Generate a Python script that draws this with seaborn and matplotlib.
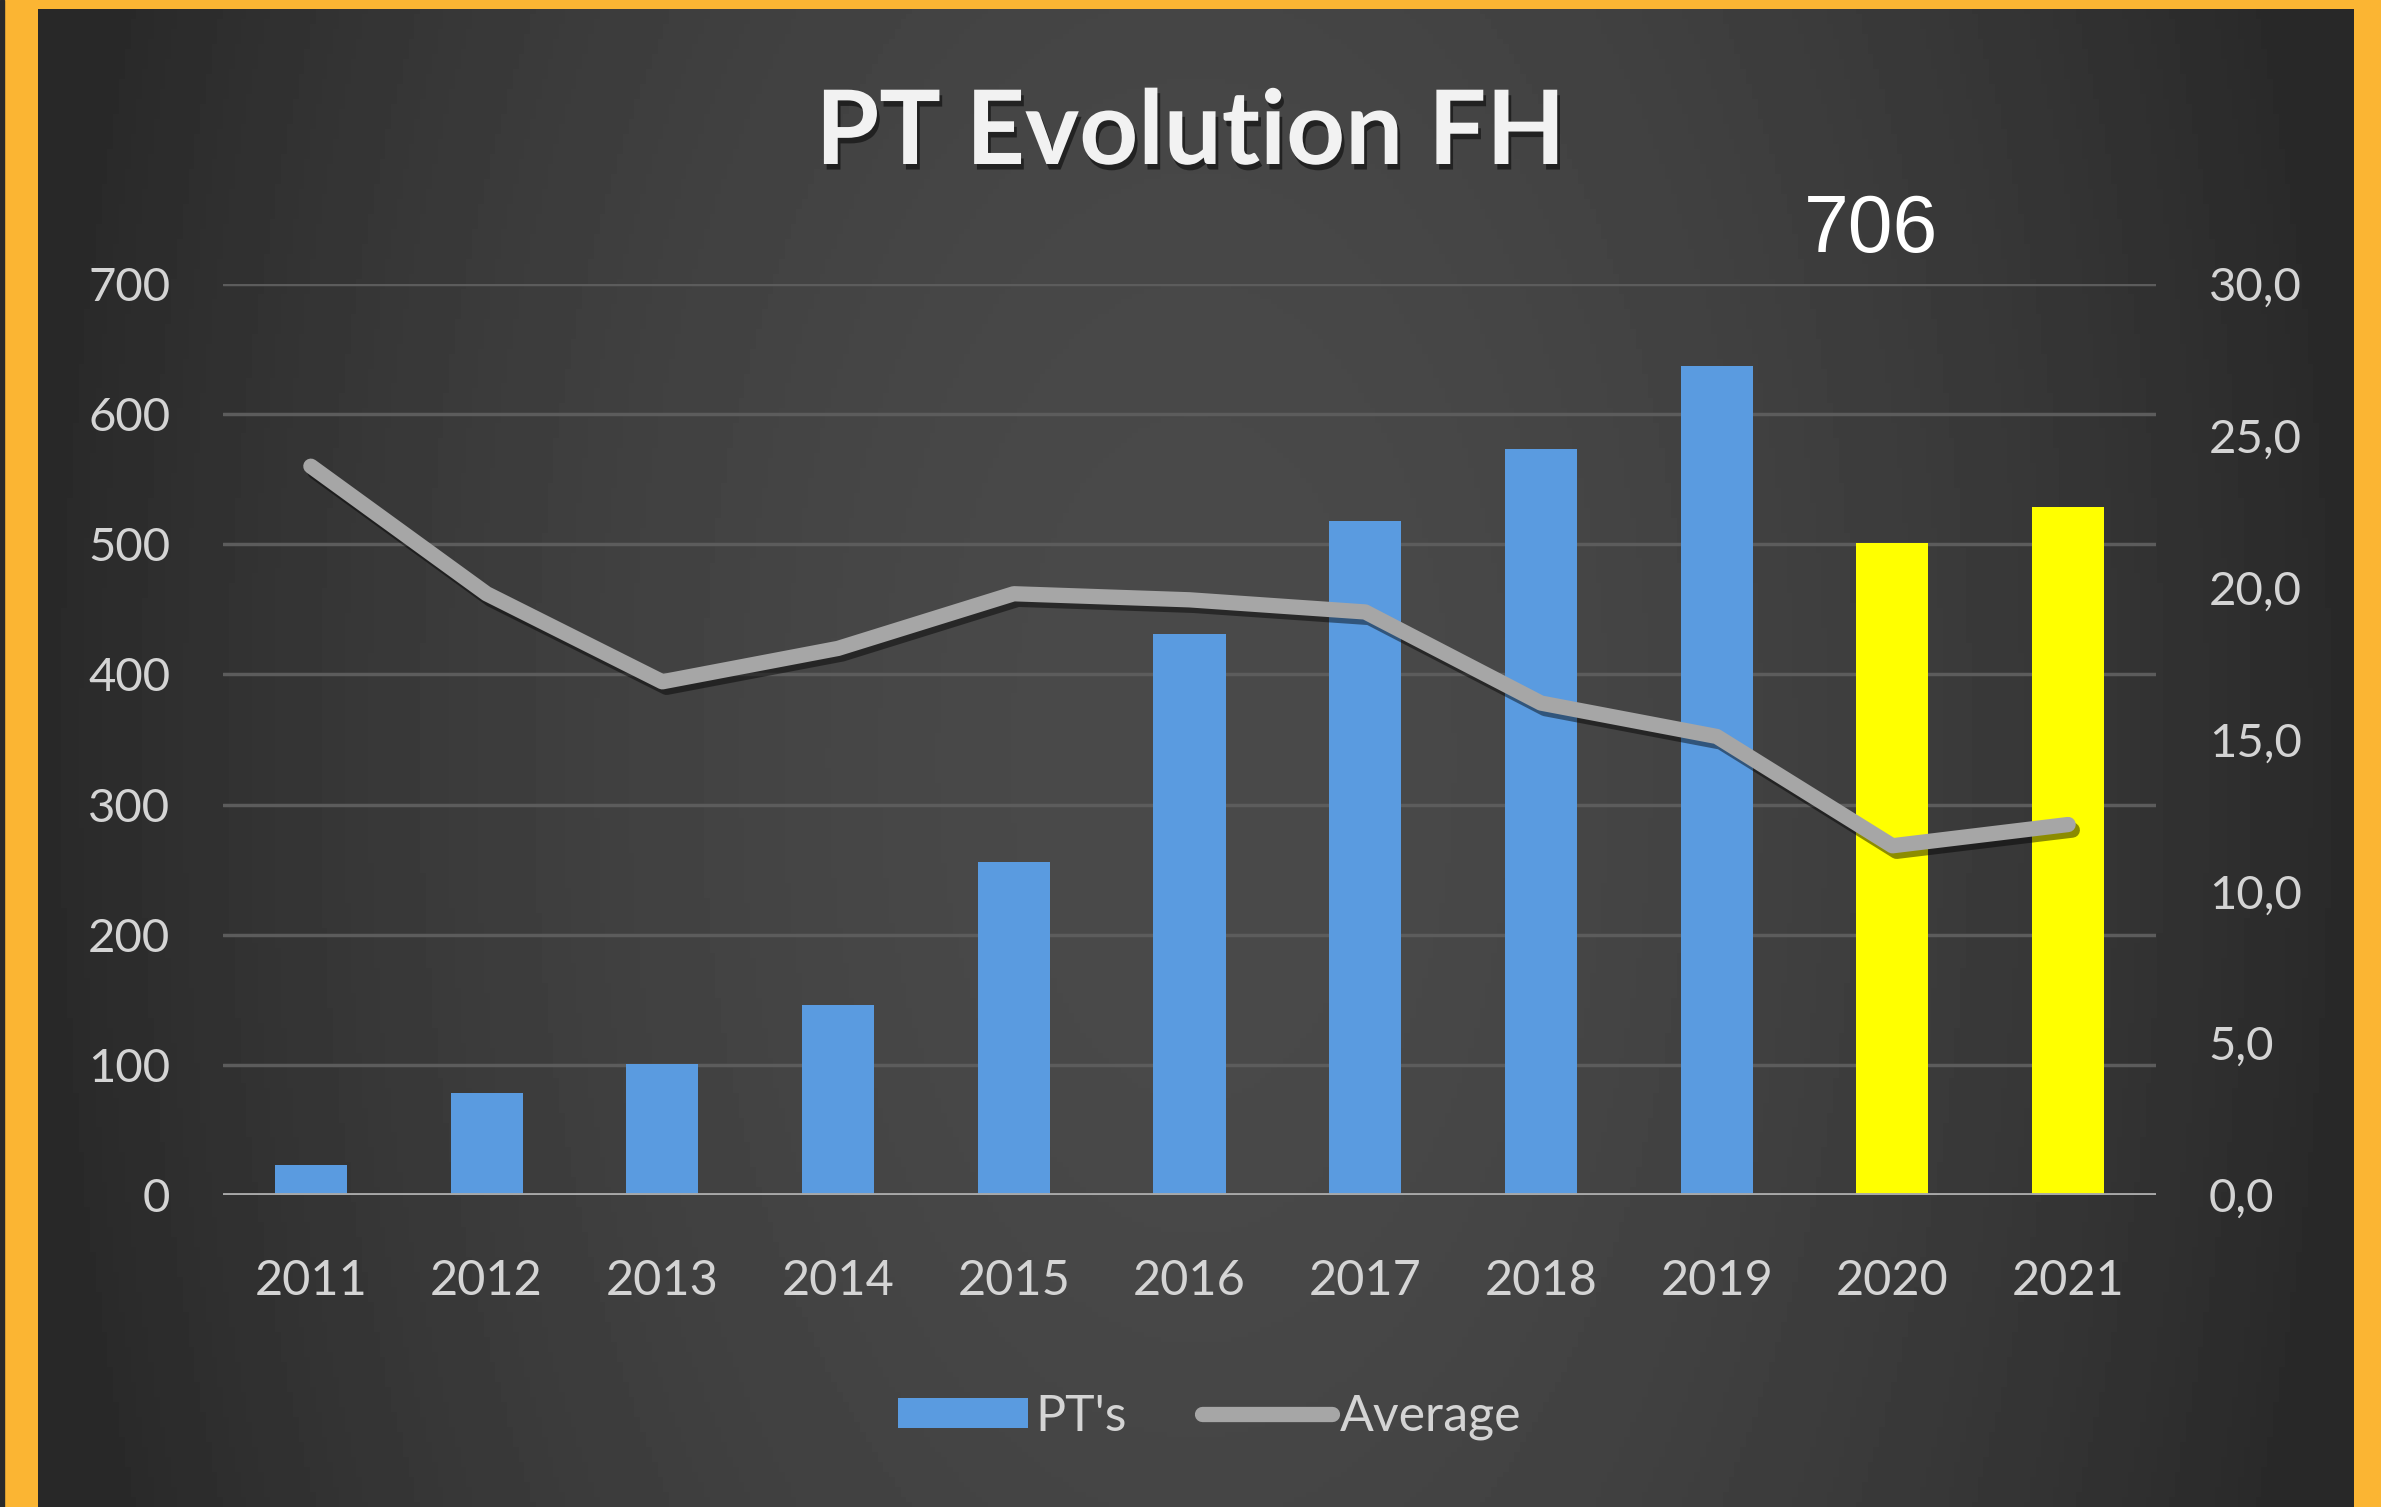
import numpy as np
import pandas as pd
import seaborn as sns
import matplotlib.pyplot as plt
import matplotlib.patheffects as pe
from matplotlib.patches import Patch, Rectangle
from matplotlib.lines import Line2D

# data
years = ['2011', '2012', '2013', '2014', '2015', '2016', '2017', '2018', '2019', '2020', '2021']
pts = [23, 78, 101, 146, 256, 431, 518, 573, 637, 501, 529]
average = [24.0, 19.8, 16.9, 18.0, 19.8, 19.6, 19.2, 16.2, 15.1, 11.5, 12.2]
bar_colors = ['#5a9be0'] * 9 + ['#ffff00'] * 2
annotation = '706'

sns.set_theme(style='dark')
plt.rcParams['font.family'] = ['Lato', 'DejaVu Sans']

txt = '#d4d4d4'
fig = plt.figure(figsize=(23.81, 15.07), dpi=100)
fig.patch.set_facecolor('#fbb533')

# dark panel, lighter in the middle, darker towards the sides
bg = fig.add_axes([38 / 2381, 0, (2354 - 38) / 2381, 1 - 9 / 1507])
gx, gy = np.meshgrid(np.linspace(-1, 1, 400), np.linspace(-1, 1, 300))
r = np.sqrt(gx ** 2 + (gy * 0.35) ** 2)
shade = 0.29 - 0.13 * np.clip(r, 0, 1) ** 1.8
bg.imshow(shade, cmap='gray', vmin=0, vmax=1, aspect='auto', extent=[0, 1, 0, 1])
bg.set_axis_off()
fig.add_artist(Rectangle((0, 0), 4 / 2381, 1, transform=fig.transFigure, color='#2a2a2a'))

ax = fig.add_axes([223 / 2381, 1 - 1195 / 1507, (2156 - 223) / 2381, (1195 - 284) / 1507])
ax.set_facecolor('none')
df = pd.DataFrame({'year': years, 'pts': pts})
sns.barplot(data=df, x='year', y='pts', hue='year', palette=bar_colors, legend=False,
            width=0.41, saturation=1, linewidth=0, ax=ax, zorder=3)
ax.set_ylim(0, 700)
ax.set_xlim(-0.5, len(years) - 0.5)
ax.set_yticks(range(0, 701, 100))
ax.grid(axis='y', color='#5c5c5c', linewidth=2.5, zorder=0)
ax.grid(axis='x', visible=False)
for s in ax.spines.values():
    s.set_visible(False)
ax.axhline(0, color='#a8a8a8', linewidth=3.5, zorder=4)
ax.set_xlabel('')
ax.set_ylabel('')
ax.tick_params(axis='y', colors=txt, labelsize=34, length=0, pad=38)
ax.tick_params(axis='x', colors=txt, labelsize=35, length=0, pad=46)

ax2 = ax.twinx()
sns.lineplot(x=np.arange(len(years)), y=average, ax=ax2, color='#a6a6a6', linewidth=11,
             solid_capstyle='round', solid_joinstyle='round', zorder=5,
             path_effects=[pe.SimpleLineShadow(offset=(3, -4), shadow_color='black', alpha=0.45),
                           pe.Normal()])
ax2.set_ylim(0, 30)
ax2.set_yticks(np.arange(0, 31, 5))
ax2.set_yticklabels([f'{v:.1f}'.replace('.', ',') for v in np.arange(0, 31, 5)])
ax2.tick_params(axis='y', colors=txt, labelsize=34, length=0, pad=38)
ax2.grid(False)
for s in ax2.spines.values():
    s.set_visible(False)

fig.text(0.5, 1 - 134 / 1507, 'PT Evolution FH', ha='center', va='center', fontsize=74,
         fontweight='bold', color='#f2f2f2',
         path_effects=[pe.withSimplePatchShadow(offset=(2, -4), shadow_rgbFace='black', alpha=0.5)])
fig.text(1871 / 2381, 1 - 231 / 1507, annotation, ha='center', va='center', fontsize=58,
         color='white', family='Liberation Sans')

handles = [Patch(facecolor='#5a9be0', edgecolor='none', label="PT's"),
           Line2D([0], [0], color='#a6a6a6', linewidth=11, label='Average')]
leg = fig.legend(handles=handles, loc='center', bbox_to_anchor=(0.508, 1 - 1417 / 1507),
                 ncol=2, frameon=False, fontsize=36, handlelength=2.6, handleheight=0.55,
                 columnspacing=1.5, handletextpad=0.15)
for t in leg.get_texts():
    t.set_color(txt)

fig.savefig('out.png', dpi=100)
